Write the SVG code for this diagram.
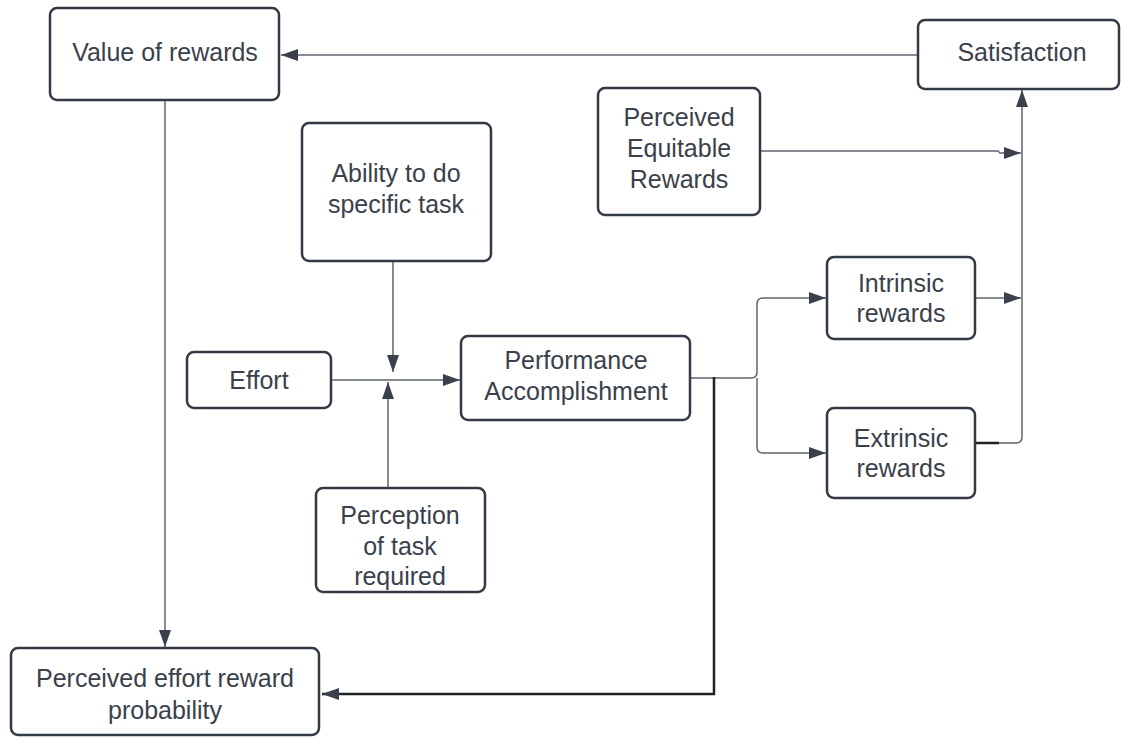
<svg xmlns="http://www.w3.org/2000/svg" width="1122" height="738" viewBox="0 0 1122 738">
<style>
.box{fill:#ffffff;stroke:#333a45;stroke-width:2.5}
.t{font-family:"Liberation Sans",Arial,sans-serif;font-size:25px;fill:#3a414a;text-anchor:middle}
.c{fill:none;stroke:#5f656e;stroke-width:1.5}
.k{fill:none;stroke:#1f2226;stroke-width:2.5}
</style>
<defs>
<marker id="ah" markerUnits="userSpaceOnUse" markerWidth="18" markerHeight="14" refX="17" refY="6" orient="auto">
<path d="M0,0 L17,6 L0,12 Z" fill="#3a414c"/>
</marker>
</defs>
<rect width="1122" height="738" fill="#ffffff"/>
<g id="connectors">
<path class="c" d="M918,55 L281,55" marker-end="url(#ah)"/>
<path class="c" d="M165,100 L165,647" marker-end="url(#ah)"/>
<path class="c" d="M760,151 L998,151 L1000,153 L1021,153" marker-end="url(#ah)"/>
<path class="c" d="M393,261 L393,372" marker-end="url(#ah)"/>
<path class="c" d="M388,488 L388,382" marker-end="url(#ah)"/>
<path class="c" d="M331,380 L460,380" marker-end="url(#ah)"/>
<path class="c" d="M690,378 L751,378 Q757,378 757,372 L757,304 Q757,298 763,298 L826,298" marker-end="url(#ah)"/>
<path class="c" d="M757,378 L757,447 Q757,453 763,453 L826,453" marker-end="url(#ah)"/>
<path class="c" d="M975,298 L1021,298" marker-end="url(#ah)"/>
<path class="k" d="M975,443 L999,443"/>
<path class="c" d="M999,443 L1016,443 Q1022,443 1022,437 L1022,90" marker-end="url(#ah)"/>
<path class="k" d="M714,377 L714,694 L322,694" marker-end="url(#ah)"/>
</g>
<g id="value-of-rewards">
<rect class="box" x="50" y="8" width="229" height="92" rx="7"/>
<text class="t" x="165" y="61">Value of rewards</text>
</g>
<g id="satisfaction">
<rect class="box" x="918" y="20" width="201" height="69" rx="7"/>
<text class="t" x="1022" y="61">Satisfaction</text>
</g>
<g id="perceived-equitable-rewards">
<rect class="box" x="598" y="88" width="162" height="127" rx="7"/>
<text class="t" x="679" y="126">Perceived</text>
<text class="t" x="679" y="157">Equitable</text>
<text class="t" x="679" y="188">Rewards</text>
</g>
<g id="ability">
<rect class="box" x="302" y="123" width="189" height="138" rx="7"/>
<text class="t" x="396" y="182">Ability to do</text>
<text class="t" x="396" y="213">specific task</text>
</g>
<g id="effort">
<rect class="box" x="187" y="352" width="144" height="56" rx="7"/>
<text class="t" x="259" y="389">Effort</text>
</g>
<g id="performance">
<rect class="box" x="461" y="336" width="229" height="84" rx="7"/>
<text class="t" x="576" y="369">Performance</text>
<text class="t" x="576" y="400">Accomplishment</text>
</g>
<g id="perception">
<rect class="box" x="316" y="488" width="169" height="104" rx="7"/>
<text class="t" x="400" y="524">Perception</text>
<text class="t" x="400" y="555">of task</text>
<text class="t" x="400" y="585">required</text>
</g>
<g id="intrinsic">
<rect class="box" x="827" y="257" width="148" height="82" rx="7"/>
<text class="t" x="901" y="292">Intrinsic</text>
<text class="t" x="901" y="322">rewards</text>
</g>
<g id="extrinsic">
<rect class="box" x="827" y="408" width="148" height="90" rx="7"/>
<text class="t" x="901" y="447">Extrinsic</text>
<text class="t" x="901" y="477">rewards</text>
</g>
<g id="perceived-effort-reward-probability">
<rect class="box" x="11" y="648" width="308" height="87" rx="7"/>
<text class="t" x="165" y="687">Perceived effort reward</text>
<text class="t" x="165" y="719">probability</text>
</g>
</svg>
